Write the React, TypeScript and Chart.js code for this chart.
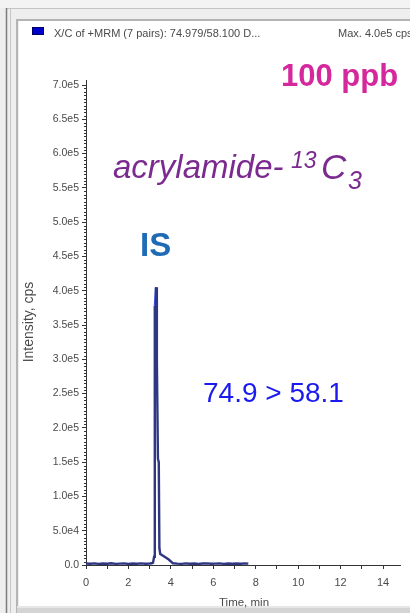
import React, { useEffect, useRef } from "react";
import { Chart, registerables } from "chart.js";

Chart.register(...registerables);

// ---- data ----
const timeMin = [
  0, 0.2, 0.4, 0.6, 0.8, 1.0, 1.2, 1.4, 1.6, 1.8, 2.0, 2.2, 2.4, 2.6, 2.8, 3.0, 3.1, 3.16,
  3.21, 3.235, 3.25, 3.275, 3.3, 3.34, 3.39, 3.43, 3.46, 3.5, 3.65, 3.9, 4.1,
  4.3, 4.5, 4.7, 4.9, 5.1, 5.3, 5.5, 5.7, 5.9, 6.1, 6.3, 6.5, 6.7, 6.9, 7.1, 7.3, 7.5, 7.65,
];
const intensityCps = [
  2100, 1800, 2400, 1600, 2200, 1900, 2500, 1700, 2000, 2300, 1600, 2100, 1900, 2400, 1800, 2200, 2600, 3500,
  12000, 267000, 378000, 392000, 405000, 300000, 155000, 150000, 24000, 16000, 13000, 8000, 2500,
  2000, 1700, 2300, 1900, 2200, 1600, 2100, 2400, 1800, 2000, 2300, 1700, 2200, 1900, 2100, 1800, 2300, 2000,
];
const xTicks = [0, 2, 4, 6, 8, 10, 12, 14];
const yTickLabels = ["0.0", "5.0e4", "1.0e5", "1.5e5", "2.0e5", "2.5e5", "3.0e5", "3.5e5", "4.0e5", "4.5e5", "5.0e5", "5.5e5", "6.0e5", "6.5e5", "7.0e5"];
const headerText = "X/C of +MRM (7 pairs): 74.979/58.100 D...";
const maxText = "Max. 4.0e5 cps";
const concText = "100 ppb";
const compoundMain = "acrylamide-";
const compoundSup = "13";
const compoundElem = "C";
const compoundSub = "3";
const isText = "IS";
const transitionText = "74.9 > 58.1";
const yTitle = "Intensity, cps";
const xTitle = "Time, min";

const FONT = '"Liberation Sans", Arial, sans-serif';

export default function App() {
  const ref = useRef<HTMLCanvasElement>(null);

  useEffect(() => {
    const canvas = ref.current;
    if (!canvas) return;
    const points = timeMin.map((t, i) => ({ x: t, y: intensityCps[i] }));

    const framePlugin = {
      id: "frame",
      beforeDraw(chart: any) {
        const c = chart.ctx;
        c.save();
        c.fillStyle = "#eeeeee";
        c.fillRect(0, 0, 410, 613);
        c.fillStyle = "#f3f3f3";
        c.fillRect(0, 0, 410, 8);
        c.strokeStyle = "#c4c4c4";
        c.lineWidth = 1;
        c.beginPath();
        c.moveTo(7, 8.5);
        c.lineTo(410, 8.5);
        c.stroke();
        c.strokeStyle = "#7c7c7c";
        c.lineWidth = 1.5;
        c.beginPath();
        c.moveTo(6.5, 8);
        c.lineTo(6.5, 613);
        c.stroke();
        c.strokeStyle = "#c6c6c6";
        c.lineWidth = 1;
        c.beginPath();
        c.moveTo(10.5, 8);
        c.lineTo(10.5, 613);
        c.stroke();
        c.fillStyle = "#ffffff";
        c.fillRect(19, 21, 391, 586);
        c.strokeStyle = "#b4b4b4";
        c.lineWidth = 2;
        c.beginPath();
        c.moveTo(17, 613);
        c.lineTo(17, 20);
        c.lineTo(410, 20);
        c.stroke();
        c.fillStyle = "#d4d4d4";
        c.fillRect(17, 608, 393, 5);
        c.fillStyle = "#e6e6e6";
        c.fillRect(17, 606, 393, 2);
        c.restore();
      },
      afterDraw(chart: any) {
        const c = chart.ctx;
        const ys = chart.scales.y;
        const area = chart.chartArea;
        c.save();
        c.strokeStyle = "#333";
        c.lineWidth = 1;
        c.beginPath();
        c.moveTo(area.left + 0.5, area.top);
        c.lineTo(area.left + 0.5, area.top - 5);
        c.stroke();
        for (let v = 5000; v < 700000; v += 5000) {
          if (v % 50000 === 0) continue;
          const py = Math.round(ys.getPixelForValue(v)) + 0.5;
          c.beginPath();
          c.moveTo(area.left - 2, py);
          c.lineTo(area.left, py);
          c.stroke();
        }
        c.fillStyle = "#0000cc";
        c.fillRect(32, 27, 12, 8);
        c.strokeStyle = "#000066";
        c.strokeRect(32.5, 27.5, 11, 7);
        c.fillStyle = "#4a4a4a";
        c.font = `11px ${FONT}`;
        c.textAlign = "left";
        c.textBaseline = "alphabetic";
        c.fillText(headerText, 54, 37);
        c.fillText(maxText, 338, 37);
        c.fillStyle = "#d4289c";
        c.font = `bold 31px ${FONT}`;
        c.fillText(concText, 281, 86);
        c.fillStyle = "#7b2b8f";
        c.font = `italic 33px ${FONT}`;
        c.fillText(compoundMain, 113, 178);
        c.font = `italic 23px ${FONT}`;
        c.fillText(compoundSup, 291, 168);
        c.font = `italic 35px ${FONT}`;
        c.fillText(compoundElem, 321, 179);
        c.font = `italic 25px ${FONT}`;
        c.fillText(compoundSub, 348, 189);
        c.fillStyle = "#1f6bb5";
        c.font = `bold 33px ${FONT}`;
        c.fillText(isText, 140, 256);
        c.fillStyle = "#1a1aee";
        c.font = `28px ${FONT}`;
        c.fillText(transitionText, 203, 402);
        c.fillStyle = "#4a4a4a";
        c.font = `11.5px ${FONT}`;
        c.textAlign = "center";
        c.fillText(xTitle, 244, 606);
        c.translate(33, 322);
        c.rotate(-Math.PI / 2);
        c.font = `14px ${FONT}`;
        c.fillText(yTitle, 0, 0);
        c.restore();
      },
    };

    const chart = new Chart(canvas, {
      type: "line",
      data: {
        datasets: [
          {
            data: points,
            borderColor: "#2f3682",
            borderWidth: 2.4,
            pointRadius: 0,
            tension: 0,
            fill: false,
            segment: {
              borderColor: (ctx: any) =>
                ctx.p0.parsed.y > 360000 && ctx.p1.parsed.y > 360000 ? "#3b4de0" : undefined,
            },
          },
        ],
      },
      options: {
        animation: false,
        responsive: false,
        events: [],
        layout: { padding: { left: 0, right: 10, top: 85, bottom: 0 } },
        plugins: { legend: { display: false }, tooltip: { enabled: false }, title: { display: false } },
        scales: {
          x: {
            type: "linear",
            min: 0,
            max: 14.8,
            afterFit: (s: any) => {
              s.height = 48;
            },
            afterBuildTicks: (s: any) => {
              const out: any[] = [];
              for (let v = 0; v <= 14; v++) out.push({ value: v });
              s.ticks = out;
            },
            ticks: {
              autoSkip: false,
              maxRotation: 0,
              padding: 7,
              color: "#4a4a4a",
              font: { family: FONT, size: 11 },
              callback: (v: any) => (xTicks.includes(Number(v)) ? String(v) : ""),
            },
            grid: {
              display: true,
              drawOnChartArea: false,
              drawTicks: true,
              tickLength: 4,
              tickColor: "#333",
            },
            border: { display: true, color: "#333", width: 1 },
          },
          y: {
            type: "linear",
            min: 0,
            max: 700000,
            afterFit: (s: any) => {
              s.width = 86;
            },
            afterBuildTicks: (s: any) => {
              s.ticks = yTickLabels.map((_, i) => ({ value: i * 50000 }));
            },
            ticks: {
              autoSkip: false,
              padding: 3,
              color: "#4a4a4a",
              font: { family: FONT, size: 10.5 },
              callback: (_v: any, i: number) => yTickLabels[i],
            },
            grid: {
              display: true,
              drawOnChartArea: false,
              drawTicks: true,
              tickLength: 4,
              tickColor: "#333",
            },
            border: { display: true, color: "#333", width: 1 },
          },
        },
      },
      plugins: [framePlugin],
    } as any);

    return () => chart.destroy();
  }, []);

  return (
    <div style={{ position: "absolute", left: 0, top: 0, width: 410, height: 613 }}>
      <canvas ref={ref} width={410} height={613} style={{ display: "block", width: 410, height: 613 }} />
    </div>
  );
}
